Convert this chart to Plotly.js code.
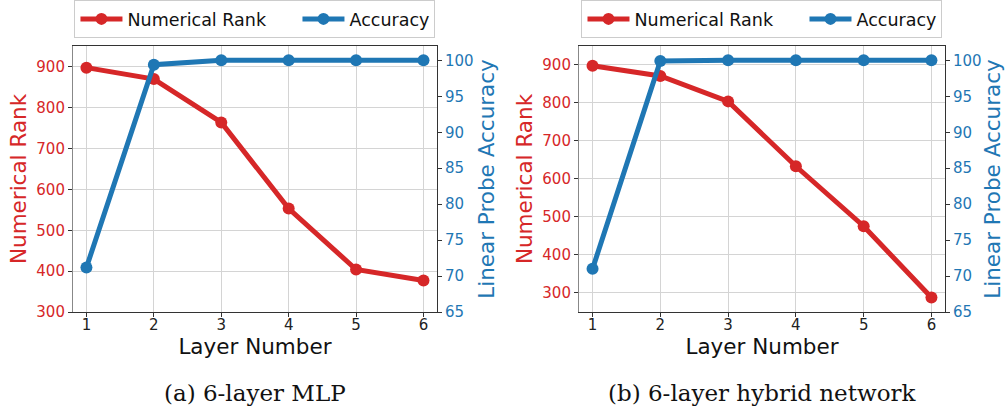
<!DOCTYPE html>
<html>
<head>
<meta charset="utf-8">
<script src="https://cdn.plot.ly/plotly-3.0.1.min.js"></script>
<style>html,body{margin:0;padding:0;background:#fff;}#chart{width:1005px;height:408px;}</style>
</head>
<body>
<div id="chart"></div>
<script>
// ---- data ----
const layers = [1, 2, 3, 4, 5, 6];
const rankMLP = [898, 870, 764, 553, 404, 377];
const accMLP = [71.2, 99.4, 100, 100, 100, 100];
const rankHybrid = [898, 871, 804, 633, 475, 287];
const accHybrid = [71.0, 99.9, 100, 100, 100, 100];
const captions = ["(a) 6-layer MLP", "(b) 6-layer hybrid network"];
const seriesNames = ["Numerical Rank", "Accuracy"];
const xTitle = "Layer Number";
const yTitleLeft = "Numerical Rank";
const yTitleRight = "Linear Probe Accuracy";

const RED = "#d62728", BLUE = "#1f77b4";
const FONT = "DejaVu Sans, sans-serif";

function tr(y, color, name, xa, ya, leg, lw) {
  const t = {
    x: layers, y: y, name: name, type: "scatter", mode: "lines+markers",
    line: {color: color, width: 5}, marker: {color: color, size: 12},
    xaxis: xa, yaxis: ya, legend: leg, showlegend: true
  };
  if (lw) t.legendwidth = lw;
  return t;
}

const data = [
  tr(rankMLP, RED, seriesNames[0], "x", "y", "legend", 165),
  tr(accMLP, BLUE, seriesNames[1], "x", "y2", "legend"),
  tr(rankHybrid, RED, seriesNames[0], "x2", "y3", "legend2", 165),
  tr(accHybrid, BLUE, seriesNames[1], "x2", "y4", "legend2")
];

const yDom = [0.2353, 0.8873];
function xAx(dom, anchor) {
  return {
    domain: dom, anchor: anchor, range: [0.8, 6.2], tickvals: layers,
    showgrid: true, gridcolor: "#d4d4d4", gridwidth: 1, zeroline: false,
    showline: true, linecolor: "#333", linewidth: 1, mirror: true,
    ticks: "outside", ticklen: 4, tickcolor: "#333",
    ticklabelstandoff: -5,
    tickfont: {family: FONT, size: 15, color: "#222"},
    title: {text: xTitle, font: {family: FONT, size: 21.5, color: "#111"}, standoff: 0},
    automargin: false, fixedrange: true
  };
}
function yLeft(anchor, range) {
  return {
    domain: yDom, anchor: anchor, range: range, dtick: 100, tick0: 0,
    showgrid: true, gridcolor: "#d4d4d4", gridwidth: 1, zeroline: false,
    showline: true, linecolor: "#888", linewidth: 1,
    ticks: "outside", ticklen: 4, tickcolor: "#333",
    tickfont: {family: FONT, size: 15, color: RED},
    title: {text: yTitleLeft, font: {family: FONT, size: 21.5, color: RED}, standoff: 3},
    automargin: false
  };
}
function yRight(anchor, overlay) {
  return {
    domain: yDom, anchor: anchor, overlaying: overlay, side: "right",
    range: [65, 102], dtick: 5, tick0: 0,
    showgrid: false, zeroline: false,
    showline: true, linecolor: "#333", linewidth: 1,
    ticks: "outside", ticklen: 4, tickcolor: "#333",
    tickfont: {family: FONT, size: 15, color: BLUE},
    title: {text: yTitleRight, font: {family: FONT, size: 21.5, color: BLUE}, standoff: 4},
    automargin: false
  };
}
function leg(xc) {
  return {
    orientation: "h", x: xc, xanchor: "center", y: 1, yanchor: "top",
    font: {family: FONT, size: 17.5, color: "#111"},
    bordercolor: "#cccccc", borderwidth: 1, bgcolor: "#fff",
    itemwidth: 42
  };
}

const layout = {
  width: 1005, height: 408,
  margin: {l: 0, r: 0, t: 0, b: 0},
  paper_bgcolor: "#fff", plot_bgcolor: "#fff",
  xaxis: xAx([0.0726, 0.4348], "y"),
  yaxis: yLeft("x", [300, 951]),
  yaxis2: yRight("x", "y"),
  xaxis2: xAx([0.5761, 0.9403], "y3"),
  yaxis3: yLeft("x2", [249, 950]),
  yaxis4: yRight("x2", "y3"),
  legend: leg(0.2537),
  legend2: leg(0.7582),
  annotations: [
    {text: captions[0], xref: "paper", yref: "paper", x: 0.2537, y: 0.0368,
     xanchor: "center", yanchor: "middle", showarrow: false,
     font: {family: "DejaVu Serif, serif", size: 23, color: "#111"}},
    {text: captions[1], xref: "paper", yref: "paper", x: 0.7582, y: 0.0368,
     xanchor: "center", yanchor: "middle", showarrow: false,
     font: {family: "DejaVu Serif, serif", size: 23, color: "#111"}}
  ]
};

Plotly.newPlot("chart", data, layout, {staticPlot: true, displayModeBar: false});
</script>
</body>
</html>
